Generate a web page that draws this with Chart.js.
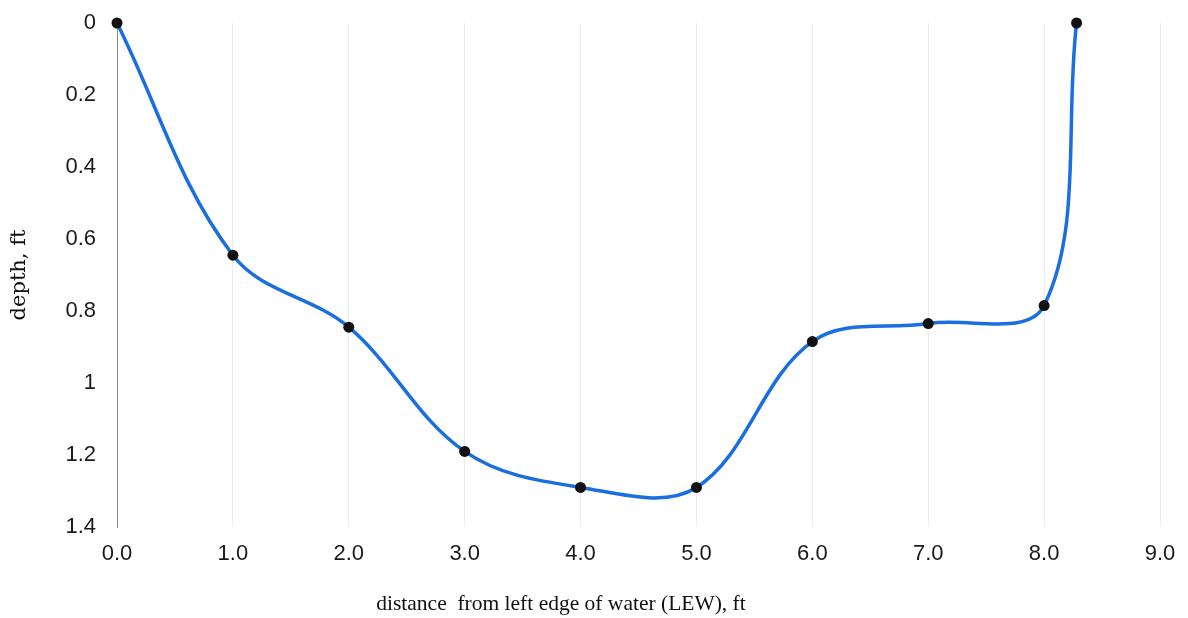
<!DOCTYPE html>
<html>
<head>
<meta charset="utf-8">
<script src="https://cdn.jsdelivr.net/npm/chart.js@4"></script>
<style>
  html, body { margin: 0; padding: 0; background: #ffffff; }
  #wrap { width: 1188px; height: 618px; }
</style>
</head>
<body>
<div id="wrap"><canvas id="c" width="1188" height="618"></canvas></div>
<script>
// Cross-section survey: distance from LEW (ft) and measured depth (ft)
const distance = [0, 1, 2, 3, 4, 5, 6, 7, 8, 8.28];
const depth = [0, 0.645, 0.845, 1.19, 1.29, 1.29, 0.885, 0.835, 0.785, 0];
const xTickMax = 9;
const yTickMax = 1.4;
const xTitle = 'distance  from left edge of water (LEW), ft';
const yTitle = 'depth, ft';

const points = distance.map((d, i) => ({ x: d, y: depth[i] }));

// Bottom axis title, drawn under the tick labels
const xTitlePlugin = {
  id: 'xTitle',
  afterDraw(chart) {
    const ctx = chart.ctx;
    ctx.save();
    ctx.font = '21.5px "Liberation Serif", "Times New Roman", serif';
    ctx.fillStyle = '#111';
    ctx.textAlign = 'center';
    ctx.textBaseline = 'alphabetic';
    ctx.fillText(xTitle, 561, 610);
    ctx.restore();
  }
};

new Chart(document.getElementById('c'), {
  type: 'line',
  data: {
    datasets: [{
      data: points,
      borderColor: '#1a6ee0',
      borderWidth: 3.5,
      tension: 0.36,
      pointRadius: 5.5,
      pointBackgroundColor: '#111',
      pointBorderColor: '#111',
      pointBorderWidth: 0,
      clip: false,
      fill: false
    }]
  },
  options: {
    responsive: false,
    animation: false,
    layout: { padding: { top: 23, right: 28, left: 0, bottom: 0 } },
    plugins: { legend: { display: false }, tooltip: { enabled: false } },
    scales: {
      x: {
        type: 'linear',
        min: 0,
        max: xTickMax,
        afterFit(s) { s.height = 91; },
        border: { display: false },
        grid: {
          color: 'rgba(0,0,0,0.07)',
          lineWidth: 1,
          drawTicks: true,
          tickLength: 14,
          tickColor: 'rgba(0,0,0,0)'
        },
        ticks: {
          stepSize: 1,
          padding: 0,
          color: '#1a1a1a',
          font: { family: '"Liberation Sans", Arial, sans-serif', size: 22 },
          callback: v => Number(v).toFixed(1)
        }
      },
      y: {
        type: 'linear',
        reverse: true,
        min: 0,
        max: yTickMax,
        afterFit(s) { s.width = 117; },
        border: { display: true, color: '#8a8a8a', width: 1 },
        grid: {
          display: false,
          drawTicks: true,
          tickLength: 21,
          tickColor: 'rgba(0,0,0,0)'
        },
        ticks: {
          stepSize: 0.2,
          padding: 0,
          color: '#1a1a1a',
          font: { family: '"Liberation Sans", Arial, sans-serif', size: 22 },
          callback: v => String(Math.round(v * 10) / 10)
        },
        title: {
          display: true,
          text: yTitle,
          color: '#111',
          font: { family: '"DejaVu Serif", serif', size: 21 },
          padding: { top: 7, bottom: 0 }
        }
      }
    }
  },
  plugins: [xTitlePlugin]
});
</script>
</body>
</html>
